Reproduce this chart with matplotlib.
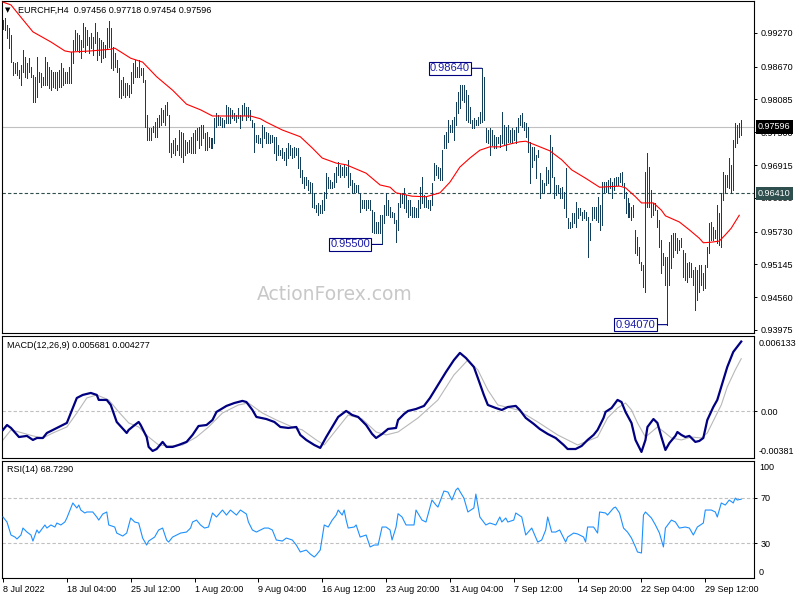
import numpy as np
import matplotlib
matplotlib.use("Agg")
import matplotlib.pyplot as plt
from matplotlib.transforms import blended_transform_factory

plt.rcParams['font.family'] = ['Liberation Sans', 'DejaVu Sans']

# ---------------- data ----------------
SYMBOL = "EURCHF,H4"
LAST_OHLC = ["0.97456", "0.97718", "0.97454", "0.97596"]

# H4 bar highs / lows in pips (1 pip = 0.0001), one value per bar, oldest first
HIGH_PIPS = [
    9950, 9954, 9941, 9936, 9923, 9875, 9873, 9875, 9861, 9870,
    9897, 9884, 9873, 9882, 9866, 9852, 9849, 9884, 9857, 9856,
    9849, 9884, 9875, 9866, 9861, 9857, 9857, 9857, 9861, 9873,
    9864, 9857, 9857, 9866, 9893, 9914, 9932, 9927, 9923, 9914,
    9945, 9938, 9932, 9920, 9927, 9920, 9945, 9929, 9918, 9914,
    9911, 9906, 9936, 9948, 9936, 9902, 9891, 9879, 9864, 9843,
    9849, 9838, 9838, 9834, 9857, 9873, 9879, 9866, 9879, 9864,
    9864, 9843, 9781, 9758, 9758, 9761, 9768, 9775, 9781, 9793,
    9790, 9799, 9804, 9781, 9731, 9736, 9740, 9727, 9754, 9750,
    9749, 9736, 9733, 9736, 9742, 9749, 9754, 9758, 9759, 9763,
    9763, 9749, 9750, 9742, 9740, 9740, 9775, 9784, 9781, 9777,
    9775, 9772, 9799, 9795, 9793, 9790, 9784, 9781, 9793, 9781,
    9799, 9802, 9795, 9795, 9790, 9772, 9766, 9745, 9745, 9740,
    9763, 9759, 9750, 9749, 9745, 9745, 9742, 9742, 9727, 9718,
    9722, 9715, 9722, 9731, 9727, 9722, 9724, 9722, 9722, 9706,
    9683, 9670, 9670, 9665, 9661, 9660, 9642, 9620, 9624, 9620,
    9629, 9643, 9677, 9670, 9665, 9661, 9677, 9688, 9697, 9692,
    9688, 9692, 9688, 9701, 9677, 9665, 9660, 9656, 9656, 9642,
    9629, 9629, 9629, 9629, 9629, 9611, 9608, 9590, 9590, 9602,
    9602, 9620, 9642, 9629, 9617, 9608, 9606, 9594, 9624, 9642,
    9642, 9651, 9638, 9629, 9629, 9617, 9617, 9615, 9629, 9652,
    9670, 9638, 9635, 9629, 9629, 9660, 9695, 9692, 9688, 9686,
    9718, 9745, 9750, 9772, 9763, 9772, 9777, 9804, 9822, 9834,
    9834, 9834, 9825, 9816, 9795, 9772, 9775, 9772, 9777, 9786,
    9864, 9849, 9758, 9754, 9758, 9754, 9745, 9742, 9742, 9745,
    9786, 9763, 9759, 9763, 9754, 9758, 9754, 9759, 9775, 9781,
    9784, 9768, 9766, 9759, 9733, 9724, 9724, 9709, 9718, 9677,
    9665, 9660, 9688, 9683, 9745, 9724, 9670, 9656, 9656, 9651,
    9652, 9643, 9686, 9597, 9590, 9606, 9606, 9626, 9615, 9615,
    9608, 9611, 9608, 9599, 9588, 9617, 9617, 9617, 9635, 9620,
    9661, 9661, 9661, 9665, 9668, 9661, 9668, 9670, 9670, 9677,
    9679, 9660, 9643, 9633, 9624, 9617, 9620, 9576, 9563, 9545,
    9519, 9513, 9679, 9713, 9688, 9647, 9624, 9624, 9611, 9594,
    9558, 9535, 9528, 9528, 9554, 9567, 9570, 9570, 9561, 9558,
    9561, 9540, 9535, 9517, 9519, 9517, 9504, 9510, 9504, 9513,
    9513, 9499, 9513, 9545, 9588, 9590, 9581, 9576, 9620, 9606,
    9642, 9679, 9674, 9674, 9704, 9692, 9736, 9766, 9763, 9766,
    9772,
]
LOW_PIPS = [
    9934, 9932, 9918, 9900, 9875, 9852, 9856, 9852, 9847, 9834,
    9857, 9849, 9847, 9857, 9849, 9804, 9804, 9813, 9840, 9831,
    9834, 9834, 9834, 9829, 9825, 9831, 9829, 9825, 9831, 9831,
    9834, 9838, 9838, 9838, 9838, 9873, 9897, 9897, 9893, 9882,
    9902, 9893, 9906, 9891, 9900, 9888, 9909, 9879, 9888, 9875,
    9882, 9884, 9900, 9902, 9864, 9861, 9866, 9857, 9813, 9811,
    9816, 9813, 9816, 9813, 9820, 9838, 9849, 9849, 9849, 9852,
    9840, 9759, 9736, 9736, 9736, 9750, 9742, 9742, 9759, 9763,
    9768, 9763, 9781, 9715, 9706, 9713, 9709, 9718, 9709, 9706,
    9697, 9709, 9713, 9715, 9713, 9713, 9713, 9736, 9722, 9727,
    9740, 9718, 9718, 9724, 9722, 9722, 9731, 9759, 9763, 9763,
    9759, 9759, 9766, 9766, 9766, 9775, 9772, 9768, 9775, 9758,
    9772, 9781, 9772, 9777, 9772, 9759, 9715, 9733, 9731, 9731,
    9724, 9740, 9731, 9731, 9731, 9733, 9713, 9701, 9709, 9709,
    9704, 9701, 9692, 9704, 9709, 9704, 9706, 9709, 9686, 9670,
    9660, 9651, 9656, 9647, 9643, 9617, 9615, 9608, 9602, 9606,
    9606, 9611, 9633, 9651, 9651, 9651, 9652, 9661, 9674, 9670,
    9674, 9670, 9674, 9652, 9656, 9642, 9643, 9643, 9643, 9608,
    9615, 9615, 9611, 9615, 9611, 9572, 9570, 9570, 9570, 9570,
    9550, 9588, 9602, 9602, 9599, 9599, 9588, 9554, 9576, 9617,
    9624, 9615, 9608, 9599, 9602, 9599, 9599, 9599, 9599, 9615,
    9624, 9617, 9617, 9615, 9611, 9620, 9665, 9674, 9668, 9665,
    9665, 9722, 9722, 9733, 9750, 9750, 9736, 9763, 9784, 9793,
    9807, 9804, 9772, 9768, 9766, 9758, 9758, 9763, 9763, 9766,
    9768, 9772, 9733, 9731, 9709, 9727, 9722, 9722, 9731, 9724,
    9731, 9727, 9718, 9733, 9733, 9731, 9736, 9731, 9750, 9763,
    9759, 9754, 9742, 9715, 9660, 9688, 9701, 9668, 9706, 9633,
    9643, 9642, 9656, 9660, 9642, 9670, 9633, 9638, 9642, 9633,
    9633, 9615, 9599, 9579, 9579, 9581, 9588, 9581, 9597, 9602,
    9594, 9597, 9594, 9528, 9558, 9594, 9597, 9594, 9590, 9576,
    9585, 9643, 9643, 9642, 9651, 9633, 9647, 9656, 9656, 9661,
    9656, 9633, 9606, 9599, 9599, 9594, 9599, 9535, 9531, 9517,
    9504, 9474, 9465, 9617, 9617, 9599, 9602, 9611, 9581, 9545,
    9499, 9513, 9478, 9407, 9478, 9508, 9528, 9540, 9535, 9540,
    9545, 9492, 9487, 9483, 9492, 9492, 9478, 9433, 9451, 9465,
    9478, 9469, 9472, 9510, 9535, 9558, 9558, 9561, 9553, 9549,
    9545, 9629, 9643, 9652, 9651, 9642, 9647, 9724, 9731, 9742,
    9745,
]

# red moving average (bar index, price)
MA_IDX = [0, 4, 9, 15, 24, 31, 34, 44, 54, 56,
          64, 70, 77, 85, 92, 99, 105, 124, 129, 132,
          140, 149, 155, 160, 167, 172, 182, 189, 194, 197,
          205, 212, 219, 224, 229, 234, 239, 244, 249, 254,
          259, 262, 267, 274, 280, 285, 292, 299, 309, 312,
          317, 320, 326, 330, 332, 339, 344, 349, 351, 355,
          359, 362, 365, 369]
MA_VAL = [0.9982, 0.9977, 0.9955, 0.9929, 0.9911, 0.9895, 0.9893, 0.9895, 0.9898, 0.9900,
          0.9882, 0.9875, 0.9849, 0.9825, 0.9800, 0.9790, 0.9779, 0.9779, 0.9774, 0.9768,
          0.9754, 0.9742, 0.9722, 0.9704, 0.9695, 0.9692, 0.9677, 0.9656, 0.9652, 0.9642,
          0.9636, 0.9635, 0.9642, 0.9661, 0.9688, 0.9704, 0.9718, 0.9724, 0.9724, 0.9729,
          0.9733, 0.9734, 0.9727, 0.9717, 0.9701, 0.9683, 0.9668, 0.9652, 0.9654, 0.9651,
          0.9635, 0.9624, 0.9624, 0.9611, 0.9601, 0.9590, 0.9576, 0.9561, 0.9553, 0.9554,
          0.9556, 0.9567, 0.9579, 0.9602]

# MACD main line (units of 1e-5)
MACD_IDX = [0, 2, 4, 8, 12, 15, 17, 20, 22, 26,
            31, 32, 34, 37, 40, 44, 47, 48, 52, 54,
            57, 62, 63, 66, 68, 69, 72, 73, 75, 77,
            80, 82, 85, 88, 92, 95, 98, 102, 105, 107,
            112, 116, 120, 122, 125, 127, 132, 136, 139, 143,
            147, 149, 152, 156, 159, 162, 165, 168, 172, 175,
            178, 182, 185, 187, 190, 193, 197, 198, 201, 203,
            207, 211, 214, 218, 222, 226, 229, 232, 236, 238,
            241, 243, 247, 250, 253, 257, 259, 262, 266, 269,
            273, 277, 281, 283, 287, 290, 293, 296, 298, 301,
            302, 305, 308, 310, 312, 315, 317, 320, 322, 323,
            326, 328, 330, 332, 334, 337, 338, 340, 342, 344,
            347, 349, 351, 353, 356, 358, 361, 363, 366, 370]
MACD_MAIN_E5 = [-154, -114, -138, -212, -203, -236, -220, -220, -179, -146,
                -105, -97, -16, 107, 132, 148, 132, 91, 91, 50,
                -89, -179, -154, -114, -89, -114, -212, -293, -326, -310,
                -252, -293, -293, -277, -252, -195, -122, -114, -73, -7,
                42, 66, 83, 74, 9, -48, -65, -89, -130, -138,
                -130, -195, -236, -277, -301, -212, -130, -48, 1, -32,
                -48, -114, -187, -220, -187, -146, -138, -73, -24, 1,
                17, 42, 107, 213, 319, 417, 475, 434, 360, 270,
                132, 50, 25, 9, 33, 42, 9, -56, -105, -146,
                -187, -220, -277, -310, -310, -285, -236, -195, -154, -56,
                -7, 25, 91, 74, -7, -97, -236, -334, -236, -130,
                -65, -97, -212, -318, -261, -203, -171, -195, -212, -203,
                -252, -244, -220, -73, 33, 91, 254, 360, 483, 568]

# MACD signal line (units of 1e-5)
SIG_IDX = [0, 4, 8, 15, 20, 25, 32, 37, 42, 47,
           53, 58, 63, 68, 73, 78, 83, 90, 97, 103,
           110, 118, 123, 130, 137, 145, 150, 157, 161, 167,
           173, 180, 187, 192, 198, 208, 218, 226, 233, 238,
           243, 248, 258, 268, 278, 288, 298, 303, 308, 312,
           315, 318, 322, 325, 328, 332, 335, 340, 345, 350,
           353, 357, 360, 363, 367, 370]
MACD_SIGNAL_E5 = [-236, -154, -171, -203, -220, -179, -130, -16, 107, 132,
                  91, -7, -97, -130, -212, -277, -285, -277, -212, -130,
                  -16, 50, 66, -16, -73, -130, -154, -236, -277, -154,
                  -32, -65, -171, -195, -171, -56, 91, 295, 417, 336,
                  172, 50, 9, -89, -195, -277, -212, -56, 25, 66,
                  9, -97, -212, -171, -130, -179, -220, -236, -212, -220,
                  -179, -48, 50, 197, 336, 428]

# RSI(14)
RSI_IDX = [0, 2, 4, 6, 7, 9, 10, 12, 14, 15,
           17, 18, 21, 22, 24, 26, 27, 29, 31, 32,
           34, 35, 37, 38, 39, 41, 42, 45, 47, 48,
           50, 52, 53, 56, 57, 60, 62, 64, 66, 68,
           70, 72, 73, 76, 78, 80, 82, 83, 85, 87,
           89, 92, 94, 95, 97, 99, 101, 103, 105, 107,
           110, 112, 114, 117, 119, 122, 123, 125, 127, 131,
           133, 135, 136, 137, 140, 142, 145, 147, 149, 152,
           154, 156, 157, 159, 161, 163, 165, 167, 168, 170,
           171, 172, 173, 176, 177, 179, 182, 184, 186, 188,
           190, 192, 194, 195, 197, 198, 200, 202, 206, 207,
           210, 212, 215, 217, 218, 221, 223, 225, 227, 228,
           231, 233, 236, 237, 239, 242, 244, 247, 249, 250,
           252, 253, 256, 257, 260, 262, 265, 268, 270, 272,
           273, 275, 277, 279, 282, 283, 286, 288, 291, 292,
           293, 296, 298, 299, 302, 303, 306, 307, 309, 311,
           313, 315, 317, 318, 320, 321, 322, 325, 327, 329,
           331, 332, 335, 337, 339, 342, 344, 346, 348, 351,
           352, 355, 357, 358, 360, 362, 364, 366, 367, 368,
           370]
RSI_VAL = [53.1, 48.7, 37.3, 35.5, 33.8, 37.3, 43.4, 39.9, 37.3, 32.0,
           41.7, 39.0, 46.1, 43.4, 46.1, 44.3, 47.8, 46.1, 48.7, 52.2,
           61.0, 65.4, 61.0, 63.6, 59.2, 56.6, 57.5, 57.5, 53.1, 50.4,
           55.7, 57.5, 46.1, 44.3, 39.0, 36.4, 39.0, 52.2, 48.7, 47.8,
           34.6, 28.5, 32.0, 35.5, 41.7, 43.4, 32.9, 31.1, 35.5, 37.3,
           39.0, 39.9, 43.4, 48.7, 50.4, 46.1, 43.4, 44.3, 56.6, 53.1,
           59.2, 54.8, 59.2, 54.8, 59.2, 55.7, 48.7, 41.7, 39.9, 43.4,
           43.4, 41.7, 37.3, 32.9, 32.0, 34.6, 32.9, 28.5, 22.4, 24.1,
           20.6, 18.0, 19.7, 24.1, 46.1, 44.3, 50.4, 54.8, 59.2, 54.8,
           59.2, 50.4, 43.4, 44.3, 46.1, 35.5, 37.3, 26.8, 28.5, 28.5,
           44.3, 44.3, 41.7, 32.9, 44.3, 56.0, 53.1, 46.1, 46.1, 59.2,
           50.4, 48.7, 68.0, 63.6, 61.8, 75.9, 75.0, 68.0, 76.8, 78.5,
           69.7, 57.5, 61.0, 73.2, 53.1, 46.1, 47.8, 46.1, 53.1, 48.7,
           52.2, 48.7, 50.4, 56.6, 53.1, 37.3, 43.4, 31.1, 32.9, 41.7,
           53.1, 39.9, 39.9, 41.7, 31.1, 35.5, 39.0, 38.2, 35.5, 31.1,
           44.3, 44.3, 39.0, 57.5, 56.6, 54.8, 61.0, 61.8, 56.6, 43.4,
           39.9, 34.6, 26.8, 22.4, 21.5, 54.8, 57.5, 52.2, 46.1, 39.0,
           26.8, 43.4, 50.4, 48.7, 43.4, 44.3, 43.4, 37.3, 44.3, 47.8,
           59.2, 59.2, 57.5, 53.1, 65.4, 63.6, 68.0, 65.4, 69.7, 68.0,
           68.729]

TIME_TICK_IDX = [0, 32, 64, 96, 128, 160, 192, 224, 256, 288, 320, 352]
TIME_LABELS = ["8 Jul 2022", "18 Jul 04:00", "25 Jul 12:00", "1 Aug 20:00",
               "9 Aug 04:00", "16 Aug 12:00", "23 Aug 20:00", "31 Aug 04:00",
               "7 Sep 12:00", "14 Sep 20:00", "22 Sep 04:00", "29 Sep 12:00"]
PRICE_TICKS = [0.99270, 0.98670, 0.98085, 0.97500, 0.96915,
               0.96330, 0.95730, 0.95145, 0.94560, 0.93975]
LAST_PRICE = 0.97596
LEVEL_PRICE = 0.96410
MARKED_IDX = [190, 240, 333]
MARKED_PRICE = [0.95500, 0.98640, 0.94070]
MACD_TEXT = "MACD(12,26,9) 0.005681 0.004277"
MACD_MAX, MACD_MIN = 0.006133, -0.00381
RSI_TEXT = "RSI(14) 68.7290"

# ---------------- styling ----------------
BAR_COLOR = "#143f5a"
NAVY = "#000080"
SILVER = "#c0c0c0"
W, H = 800, 600
XLIM = (-0.5, 376.4)
LBL = 6.5


def rect(x0, y0, x1, y1):
    return [x0 / W, 1 - y1 / H, (x1 - x0) / W, (y1 - y0) / H]


fig = plt.figure(figsize=(8, 6), dpi=100)
fig.patch.set_facecolor("white")
axp = fig.add_axes(rect(2, 1, 754, 333))
axm = fig.add_axes(rect(2, 336, 754, 457.7))
axr = fig.add_axes(rect(2, 460.7, 754, 578.3))

for ax in (axp, axm, axr):
    ax.set_xlim(*XLIM)
    for s in ax.spines.values():
        s.set_color("black")
        s.set_linewidth(0.8)
    ax.yaxis.tick_right()
    ax.tick_params(axis="y", length=2.5, width=0.7, labelsize=LBL, pad=2,
                   colors="black")
    ax.tick_params(axis="x", bottom=False, labelbottom=False)

# ---- price panel ----
idx = np.arange(len(HIGH_PIPS))
high = np.array(HIGH_PIPS) / 10000.0
low = np.array(LOW_PIPS) / 10000.0
axp.set_ylim(0.93921, 0.99840)
axp.axhline(LAST_PRICE, color=SILVER, lw=0.8, zorder=1)
axp.axhline(LEVEL_PRICE, color="#2f4f4f", lw=0.8, ls=(0, (3, 2)), zorder=1)
axp.vlines(idx, low, high, colors=BAR_COLOR, linewidth=0.5,
           antialiased=False, zorder=3)
axp.plot(MA_IDX, MA_VAL, color="#ff0000", lw=0.8, zorder=4)
axp.set_yticks(PRICE_TICKS)
axp.set_yticklabels([f"{t:.5f}" for t in PRICE_TICKS])

axp.text(0.443, 0.115, "ActionForex.com", transform=axp.transAxes,
         ha="center", va="center", color="#c8c8c8", fontsize=13.5,
         family="DejaVu Sans", zorder=0)

for i, p in zip(MARKED_IDX, MARKED_PRICE):
    axp.annotate(f"{p:.5f}", xy=(i, p), xytext=(-12, 0),
                 textcoords="offset pixels", ha="right", va="center",
                 fontsize=8, color="#1c1ca8",
                 bbox=dict(boxstyle="square,pad=0.12", fc="white",
                           ec=NAVY, lw=0.8),
                 arrowprops=dict(arrowstyle="-", color=NAVY, lw=0.8,
                                 shrinkA=0, shrinkB=0),
                 zorder=6)

tr = blended_transform_factory(axp.transAxes, axp.transData)
axp.text(1.0 + 4 / 752, LAST_PRICE, f"{LAST_PRICE:.5f}", transform=tr,
         ha="left", va="center", fontsize=LBL, color="white", zorder=10,
         clip_on=False,
         bbox=dict(boxstyle="square,pad=0.25", fc="black", ec="black", lw=0))
axp.text(1.0 + 4 / 752, LEVEL_PRICE, f"{LEVEL_PRICE:.5f}", transform=tr,
         ha="left", va="center", fontsize=LBL, color="white", zorder=10,
         clip_on=False,
         bbox=dict(boxstyle="square,pad=0.25", fc="#2f4f4f", ec="#2f4f4f",
                   lw=0))

# ---- MACD panel ----
axm.set_ylim(MACD_MIN, MACD_MAX)
axm.axhline(0, color=SILVER, lw=0.8, ls=(0, (3, 2)), zorder=1)
axm.plot(SIG_IDX, np.array(MACD_SIGNAL_E5) * 1e-5, color="#b8b8b8", lw=0.8,
         zorder=2)
axm.plot(MACD_IDX, np.array(MACD_MAIN_E5) * 1e-5, color=NAVY, lw=1.6,
         zorder=3, solid_joinstyle="round")
axm.set_yticks([0])
axm.set_yticklabels(["0.00"])
axm.text(1.0 + 5 / 752, (457.7 - 343) / 121.7, f"{MACD_MAX:.6f}",
         transform=axm.transAxes, ha="left", va="center", fontsize=LBL,
         clip_on=False)
axm.text(1.0 + 5 / 752, (457.7 - 452) / 121.7, f"{MACD_MIN:.5f}",
         transform=axm.transAxes, ha="left", va="center", fontsize=LBL,
         clip_on=False)

# ---- RSI panel ----
axr.set_ylim(-0.7, 102.5)
for lv in (70, 30):
    axr.axhline(lv, color=SILVER, lw=0.8, ls=(0, (3, 2)), zorder=1)
axr.plot(RSI_IDX, RSI_VAL, color="#1e90ff", lw=0.8, zorder=3)
axr.set_yticks([70, 30])
axr.set_yticklabels(["70", "30"])
axr.text(1.0 + 5 / 752, (578.3 - 467) / 117.6, "100",
         transform=axr.transAxes, ha="left", va="center", fontsize=LBL,
         clip_on=False)
axr.text(1.0 + 5 / 752, (578.3 - 572.7) / 117.6, "0",
         transform=axr.transAxes, ha="left", va="center", fontsize=LBL,
         clip_on=False)

axr.set_xticks(TIME_TICK_IDX)
axr.set_xticklabels(TIME_LABELS)
axr.tick_params(axis="x", bottom=True, labelbottom=True, length=3, width=0.7,
                labelsize=LBL, pad=1.5, direction="out")
for lab in axr.get_xticklabels():
    lab.set_ha("left")


def ftext(x, y, s, **kw):
    fig.text(x / W, 1 - y / H, s, va="center", ha="left", **kw)


ftext(5, 10.5, "\u25bc", fontsize=5, family="DejaVu Sans", color="black")
ftext(18, 10.5, f"{SYMBOL}  " + " ".join(LAST_OHLC), fontsize=LBL,
      color="black")
ftext(7, 345, MACD_TEXT, fontsize=LBL, color="black")
ftext(7, 470, RSI_TEXT, fontsize=LBL, color="black")

fig.savefig("out.png", dpi=100, facecolor="white")
